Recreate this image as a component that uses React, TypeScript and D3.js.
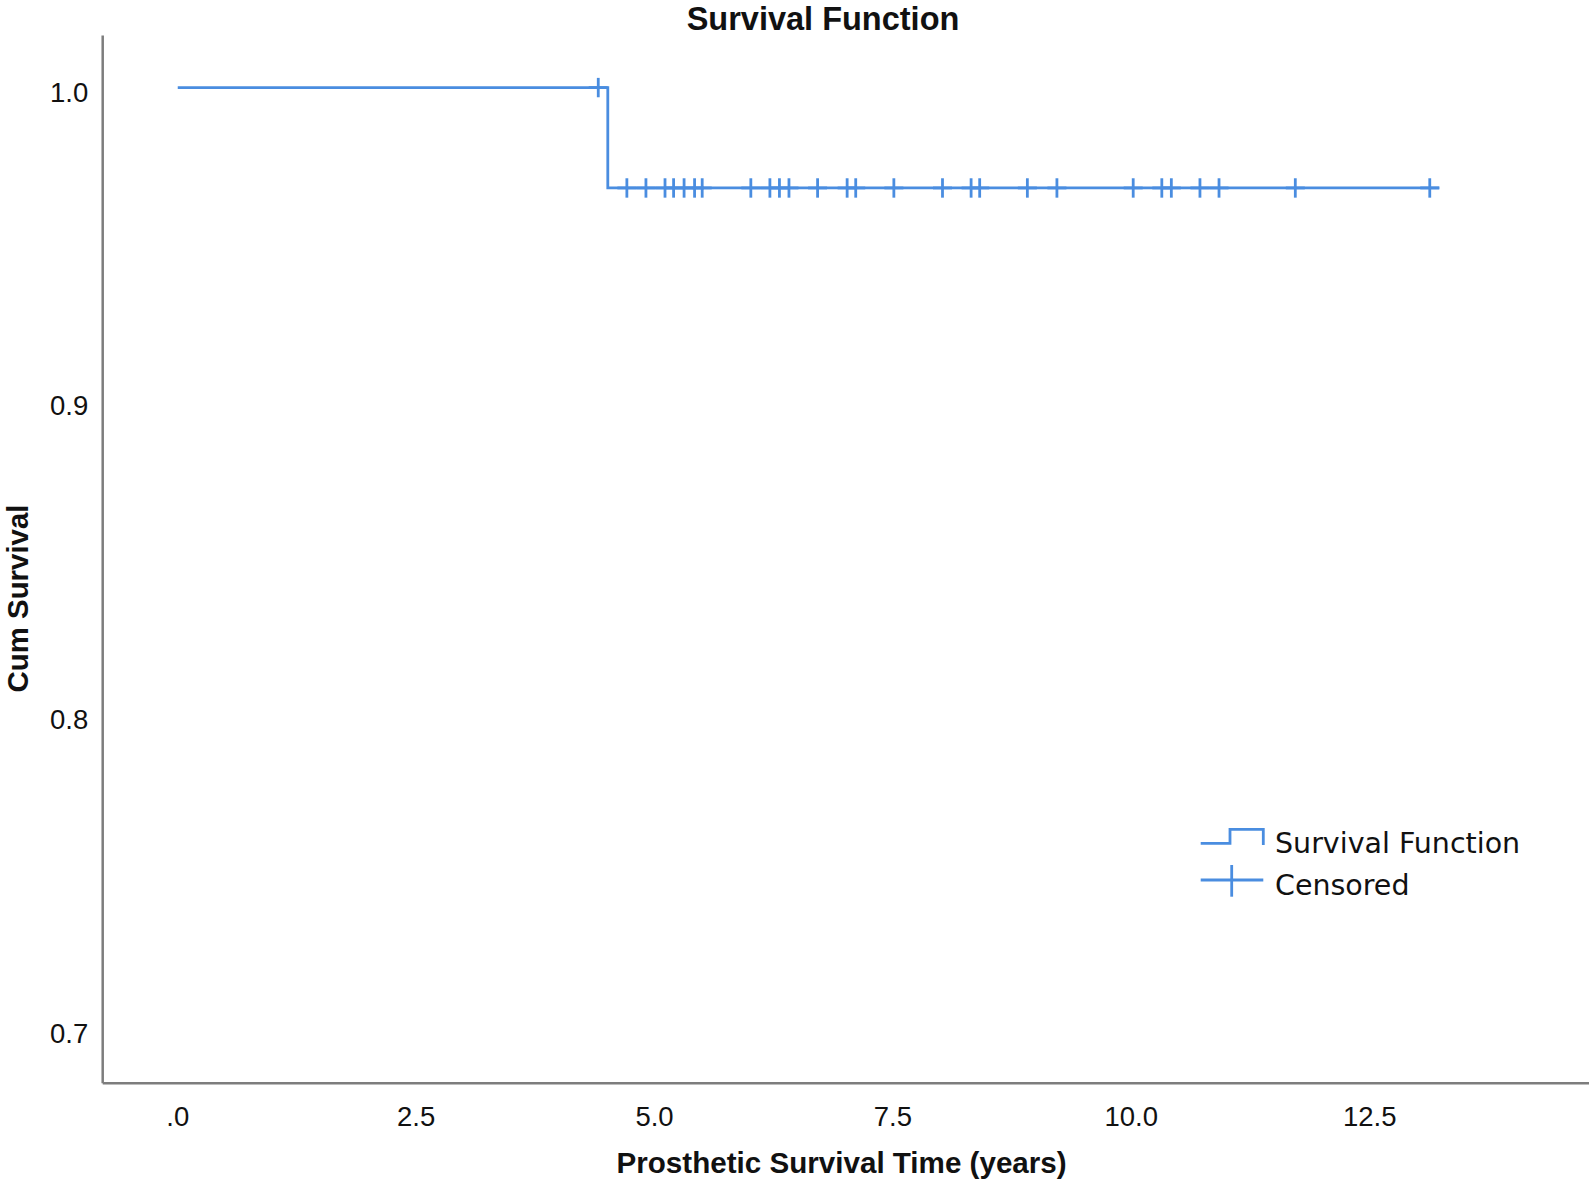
import React from "react";
import * as d3 from "d3";

// ---- data ----
const stepTimes = [0, 4.51, 13.23];
const stepSurvival = [1.0, 0.968, 0.968];
const censoredTimes = [
  4.41, 4.71, 4.91, 5.11, 5.2, 5.31, 5.42, 5.5, 6.01, 6.21, 6.31, 6.41, 6.71,
  7.02, 7.11, 7.51, 8.02, 8.32, 8.41, 8.91, 9.22, 10.02, 10.32, 10.42, 10.72,
  10.92, 11.72, 13.13,
];
const xTickValues = [0, 2.5, 5, 7.5, 10, 12.5];
const xTickLabels = [".0", "2.5", "5.0", "7.5", "10.0", "12.5"];
const yTickValues = [0.7, 0.8, 0.9, 1.0];
const yTickLabels = ["0.7", "0.8", "0.9", "1.0"];
const legendLabels = ["Survival Function", "Censored"];
const titleText = "Survival Function";
const xTitle = "Prosthetic Survival Time (years)";
const yTitle = "Cum Survival";

const W = 1592;
const H = 1181;
const LINE = "#4a8de0";
const AXIS = "#7d7d7d";

export default function App() {
  const x = d3.scaleLinear().domain([-0.787, 14.8]).range([102.7, 1589]);
  const y = d3.scaleLinear().domain([0.6826, 1.0166]).range([1083.3, 35.5]);

  const pts = stepTimes.map((t, i) => [t, stepSurvival[i]] as [number, number]);
  const line = d3
    .line<[number, number]>()
    .x((d) => x(d[0]))
    .y((d) => y(d[1]))
    .curve(d3.curveStepAfter);

  const survivalAt = (t: number) => {
    let s = stepSurvival[0];
    for (let i = 0; i < stepTimes.length; i++) if (stepTimes[i] <= t) s = stepSurvival[i];
    return s;
  };

  const [x0, x1] = x.range();
  const [y0, y1] = y.range();
  const tickFont = "'Liberation Sans', Arial, sans-serif";

  return (
    <svg
      width={W}
      height={H}
      style={{ position: "absolute", left: 0, top: 0, background: "#fff" }}
    >
      <rect x={0} y={0} width={W} height={H} fill="#fff" />
      {/* axes */}
      <line x1={x0} x2={x0} y1={y1} y2={y0} stroke={AXIS} strokeWidth={2.5} />
      <line x1={x0} x2={x1} y1={y0} y2={y0} stroke={AXIS} strokeWidth={2.5} />

      {/* y tick labels */}
      {yTickValues.map((v, i) => (
        <text
          key={"y" + i}
          x={88.3}
          y={y(v) + 14}
          textAnchor="end"
          fontFamily={tickFont}
          fontSize={27.5}
          fill="#111"
        >
          {yTickLabels[i]}
        </text>
      ))}
      {/* x tick labels */}
      {xTickValues.map((v, i) => (
        <text
          key={"x" + i}
          x={x(v)}
          y={1126}
          textAnchor="middle"
          fontFamily={tickFont}
          fontSize={27.5}
          fill="#111"
        >
          {xTickLabels[i]}
        </text>
      ))}

      {/* survival step line */}
      <path d={line(pts) || ""} fill="none" stroke={LINE} strokeWidth={2.8} />

      {/* censored marks */}
      {censoredTimes.map((t, i) => {
        const cx = x(t);
        const cy = y(survivalAt(t));
        return (
          <g key={"c" + i} stroke={LINE} strokeWidth={2.8}>
            <line x1={cx - 9.5} x2={cx + 9.5} y1={cy} y2={cy} />
            <line x1={cx} x2={cx} y1={cy - 9.7} y2={cy + 9.7} />
          </g>
        );
      })}

      {/* title */}
      <text
        x={823}
        y={30}
        textAnchor="middle"
        fontFamily={tickFont}
        fontWeight="bold"
        fontSize={32.5}
        fill="#111"
      >
        {titleText}
      </text>
      {/* x title */}
      <text
        x={841.6}
        y={1173}
        textAnchor="middle"
        fontFamily={tickFont}
        fontWeight="bold"
        fontSize={29.6}
        fill="#111"
      >
        {xTitle}
      </text>
      {/* y title */}
      <text
        transform={`translate(27.5,598.5) rotate(-90)`}
        textAnchor="middle"
        fontFamily={tickFont}
        fontWeight="bold"
        fontSize={29.4}
        fill="#111"
      >
        {yTitle}
      </text>

      {/* legend */}
      <path
        d="M1200.7,843.3 H1230 V829.3 H1263.3 V845"
        fill="none"
        stroke={LINE}
        strokeWidth={2.8}
      />
      <text x={1275} y={853.3} fontFamily="'DejaVu Sans', sans-serif" fontSize={28.5} fill="#111">
        {legendLabels[0]}
      </text>
      <g stroke={LINE} strokeWidth={2.8}>
        <line x1={1200.7} x2={1263.3} y1={880} y2={880} />
        <line x1={1231.7} x2={1231.7} y1={865} y2={896.7} />
      </g>
      <text x={1275} y={895} fontFamily="'DejaVu Sans', sans-serif" fontSize={28.5} fill="#111">
        {legendLabels[1]}
      </text>
    </svg>
  );
}
